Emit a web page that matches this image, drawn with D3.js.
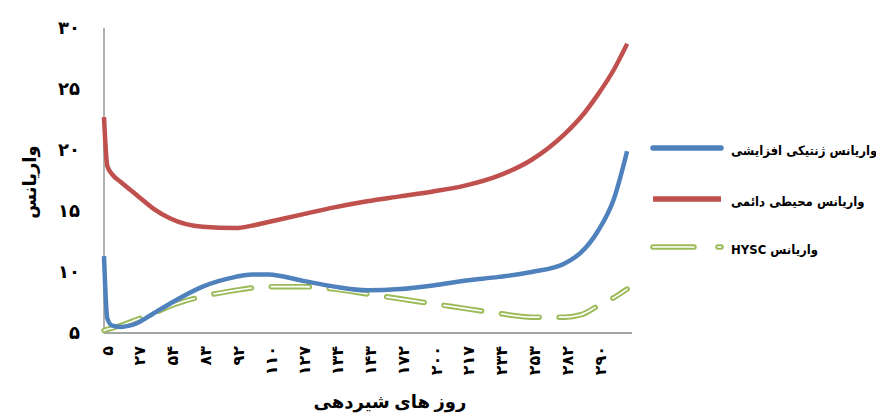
<!DOCTYPE html>
<html>
<head>
<meta charset="utf-8">
<script src="https://cdn.jsdelivr.net/npm/d3@7"></script>
<style>
  html, body { margin: 0; padding: 0; background: #fff; }
  svg { display: block; }
  text { font-family: "Times New Roman", "Liberation Serif", "DejaVu Sans", serif; font-weight: bold; fill: #000; }
  .legend-text { font-family: "DejaVu Sans Condensed", "DejaVu Sans", sans-serif; }
</style>
</head>
<body>
<svg id="chart" width="876" height="415"></svg>
<script>
// Category-axis labels (days in milk), every labelled category
const dayLabels = ["۵", "۲۷", "۵۴", "۸۳", "۹۲", "۱۱۰", "۱۲۷", "۱۳۴", "۱۴۳", "۱۷۲", "۲۰۰", "۲۱۷", "۲۳۴", "۲۵۳", "۲۸۲", "۲۹۰"];
// Y ticks
const yTicks = [5, 10, 15, 20, 25, 30];
const yTickLabels = ["۵", "۱۰", "۱۵", "۲۰", "۲۵", "۳۰"];

// Position of each sampled point along the category axis (0 = first label)
const samplePos   = [0, 0.1, 0.25, 0.5, 1, 1.5, 2, 3, 4, 4.5, 5, 6, 7, 8, 9, 10, 11, 12, 13, 14, 14.5, 15, 15.5, 15.9];
// Additive genetic variance
const geneticVar  = [11.3, 6.2, 5.6, 5.5, 5.8, 6.6, 7.4, 8.8, 9.6, 9.8, 9.8, 9.3, 8.8, 8.5, 8.6, 8.9, 9.3, 9.6, 10.0, 10.7, 11.6, 13.3, 16.0, 19.9];
// Permanent environmental variance
const permEnvVar  = [22.7, 18.7, 18.0, 17.4, 16.3, 15.2, 14.4, 13.7, 13.6, 13.8, 14.1, 14.7, 15.3, 15.8, 16.2, 16.6, 17.1, 17.9, 19.2, 21.3, 22.7, 24.5, 26.6, 28.7];
// HYSC variance
const hyscVar     = [5.2, 5.3, 5.4, 5.6, 6.1, 6.6, 7.2, 8.0, 8.5, 8.7, 8.8, 8.8, 8.6, 8.2, 7.8, 7.4, 7.0, 6.6, 6.3, 6.3, 6.5, 7.2, 7.9, 8.6];

const seriesNames  = ["واریانس ژنتیکی افزایشی", "واریانس محیطی دائمی", "واریانس HYSC"];
const seriesColors = ["#4F81BD", "#C0504D", "#9BBB59"];
const yTitle = "واریانس";
const xTitle = "روز های شیردهی";

const svg = d3.select("#chart");
const plot = { left: 104, right: 628, top: 28, bottom: 333 };
const labelStep = 32.9;

const x = d3.scaleLinear()
  .domain([0, (plot.right - plot.left) / labelStep])
  .range([plot.left, plot.right]);
const y = d3.scaleLinear().domain([5, 30]).range([plot.bottom, plot.top]);

// Axis lines
svg.append("line").attr("x1", plot.left).attr("x2", plot.left)
  .attr("y1", plot.top).attr("y2", plot.bottom)
  .attr("stroke", "#868686").attr("stroke-width", 1.3);
svg.append("line").attr("x1", plot.left).attr("x2", plot.right + 4)
  .attr("y1", plot.bottom).attr("y2", plot.bottom)
  .attr("stroke", "#868686").attr("stroke-width", 1.3);

// Y tick labels
svg.append("g").selectAll("text").data(yTicks).join("text")
  .attr("x", 80).attr("y", d => y(d))
  .attr("text-anchor", "end").attr("dominant-baseline", "central")
  .style("font-size", "18px")
  .text((d, i) => yTickLabels[i]);

// X tick labels, rotated
svg.append("g").selectAll("text").data(dayLabels).join("text")
  .attr("transform", (d, i) => `translate(${x(i) + 3},${plot.bottom + 13}) rotate(-90)`)
  .attr("text-anchor", "end").attr("dominant-baseline", "central")
  .style("font-size", "16px")
  .text(d => d);

// Axis titles
svg.append("text")
  .attr("transform", "translate(30,182) rotate(-90)")
  .attr("text-anchor", "middle").attr("dominant-baseline", "central")
  .style("font-size", "18px")
  .text(yTitle);
svg.append("text")
  .attr("x", 390).attr("y", 408)
  .attr("text-anchor", "middle")
  .style("font-size", "18px")
  .text(xTitle);

// Lines
const pts = vals => samplePos.map((p, i) => [p, vals[i]]);
const line = d3.line().x(d => x(d[0])).y(d => y(d[1])).curve(d3.curveMonotoneX);

svg.append("path").attr("d", line(pts(hyscVar)))
  .attr("fill", "none").attr("stroke", seriesColors[2]).attr("stroke-width", 5.5)
  .attr("stroke-linecap", "round").attr("stroke-dasharray", "38 20");
svg.append("path").attr("d", line(pts(hyscVar)))
  .attr("fill", "none").attr("stroke", "#ffffff").attr("stroke-width", 1.6)
  .attr("stroke-linecap", "round").attr("stroke-dasharray", "38 20");
svg.append("path").attr("d", line(pts(permEnvVar)))
  .attr("fill", "none").attr("stroke", seriesColors[1]).attr("stroke-width", 4.5)
  .attr("stroke-linejoin", "round");
svg.append("path").attr("d", line(pts(geneticVar)))
  .attr("fill", "none").attr("stroke", seriesColors[0]).attr("stroke-width", 4.5)
  .attr("stroke-linejoin", "round");

// Legend
const legendY = [148, 199, 247];
const lg = svg.append("g");
[0, 1].forEach(i => {
  lg.append("line").attr("x1", 653).attr("x2", 721).attr("y1", legendY[i]).attr("y2", legendY[i])
    .attr("stroke", seriesColors[i]).attr("stroke-width", 5.5)
    .attr("stroke-linecap", i === 0 ? "round" : "butt");
});
lg.append("line").attr("x1", 653).attr("x2", 721).attr("y1", legendY[2]).attr("y2", legendY[2])
  .attr("stroke", seriesColors[2]).attr("stroke-width", 5.5)
  .attr("stroke-linecap", "round").attr("stroke-dasharray", "41 24");
lg.append("line").attr("x1", 653).attr("x2", 721).attr("y1", legendY[2]).attr("y2", legendY[2])
  .attr("stroke", "#ffffff").attr("stroke-width", 1.6)
  .attr("stroke-linecap", "round").attr("stroke-dasharray", "41 24");
lg.selectAll("text").data(seriesNames).join("text")
  .attr("class", "legend-text")
  .attr("x", 731).attr("y", (d, i) => legendY[i] + 2)
  .attr("direction", "rtl")
  .attr("text-anchor", "end").attr("dominant-baseline", "central")
  .style("font-size", "13px")
  .text(d => d);
</script>
</body>
</html>
